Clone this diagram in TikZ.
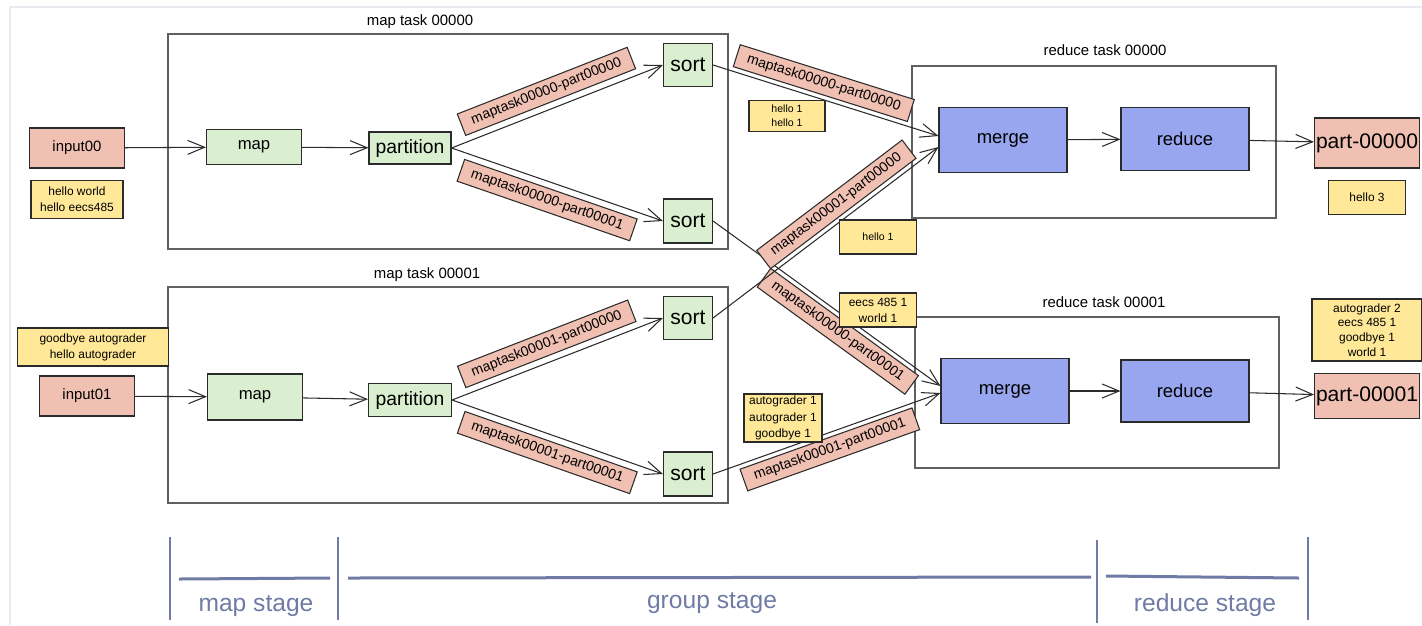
\documentclass[tikz,border=0pt]{standalone}
\usepackage{fontspec}
\setmainfont{Liberation Sans}
\usepackage{tikz}
\usetikzlibrary{arrows.meta,positioning}
\definecolor{pink}{HTML}{F0C1B3}
\definecolor{leaf}{HTML}{D9EFCF}
\definecolor{lav}{HTML}{97A6EE}
\definecolor{note}{HTML}{FFE998}
\definecolor{stage}{HTML}{6F7BA5}
\definecolor{frame}{HTML}{E9E9EF}
\definecolor{ink}{HTML}{2B2B2B}

\begin{document}
\begin{tikzpicture}[
  x=0.2mm,y=-0.2mm,
  b/.style={draw=ink,line width=.6pt,inner sep=0pt,align=center},
  pk/.style={b,fill=pink},
  gr/.style={b,fill=leaf},
  bl/.style={b,fill=lav,minimum width=25.6mm,minimum height=12.6mm,
    font=\fontsize{10.5}{12}\selectfont},
  nt/.style={b,fill=note,font=\fontsize{6.8}{9.2}\selectfont},
  sm/.style={font=\fontsize{6}{8.2}\selectfont},
  tag/.style={pk,sloped,minimum width=36.5mm,minimum height=4.6mm,
    font=\fontsize{8}{9}\selectfont},
  task/.style={draw=ink!75,line width=.6pt,inner sep=0pt},
  ttl/.style={font=\fontsize{8.5}{10}\selectfont},
  a/.style={-{Straight Barb[length=3.4mm,width=2.8mm]},draw=ink,line width=.6pt},
  stg/.style={draw=stage,line width=.45mm},
  stgl/.style={text=stage,font=\fontsize{14}{16}\selectfont}
]
\useasboundingbox (0,0) rectangle (1422,625);
\draw[frame,line width=.4mm] (10,625) |- (1422,7);

\node[task,minimum width=112mm,minimum height=43mm] (T0) at (448,141.5) {};
\node[ttl] (T0t) at (420,22) {map task 00000};
\node[task,minimum width=112mm,minimum height=43.2mm] (T1) at (448,395) {};
\node[ttl] (T1t) at (427,275) {map task 00001};
\node[task,minimum width=72.8mm,minimum height=30.4mm] (R0) at (1094,142) {};
\node[ttl] (R0t) at (1105,50) {reduce task 00000};
\node[task,minimum width=72.8mm,minimum height=30.2mm] (R1) at (1097,392.5) {};
\node[ttl] (R1t) at (1104,302) {reduce task 00001};

\node[pk,minimum width=19mm,minimum height=8mm,font=\fontsize{8.5}{10}\selectfont] (I0) at (77,148) {input00};
\node[nt,minimum width=18.4mm,minimum height=7.6mm,below=2.2mm of I0] (N0) {hello world\\hello eecs485};
\node[gr,minimum width=19mm,minimum height=7mm,font=\fontsize{9.5}{11}\selectfont] (MP0) at (254,147) {map};
\node[gr,minimum width=16.4mm,minimum height=6.4mm,font=\fontsize{11}{12}\selectfont] (PT0) at (410,148) {partition};
\node[gr,minimum width=9.8mm,minimum height=8.6mm,font=\fontsize{12}{13}\selectfont] (S00) at (688,65) {sort};
\node[gr,minimum width=9.8mm,minimum height=8.8mm,font=\fontsize{12}{13}\selectfont] (S01) at (688,221) {sort};

\node[pk,minimum width=19mm,minimum height=8mm,font=\fontsize{8.5}{10}\selectfont] (I1) at (87,396) {input01};
\node[nt,minimum width=30.2mm,minimum height=7.6mm] (N1) at (93,347) {goodbye autograder\\hello autograder};
\node[gr,minimum width=19mm,minimum height=9.2mm,font=\fontsize{9.5}{11}\selectfont] (MP1) at (255,397) {map};
\node[gr,minimum width=16.6mm,minimum height=6.6mm,font=\fontsize{11}{12}\selectfont] (PT1) at (410,400) {partition};
\node[gr,minimum width=9.8mm,minimum height=8.6mm,font=\fontsize{12}{13}\selectfont] (S10) at (688,318) {sort};
\node[gr,minimum width=9.8mm,minimum height=8.8mm,font=\fontsize{12}{13}\selectfont] (S11) at (688,474) {sort};

\node[bl,minimum height=13mm] (MG0) at (1003,140) {merge};
\node[bl] (RD0) at (1185,139) {reduce};
\node[pk,minimum width=21mm,minimum height=10mm,font=\fontsize{12}{13}\selectfont] (O0) at (1367,143) {part-00000};
\node[nt,minimum width=15.4mm,minimum height=6.8mm,below=2.2mm of O0] (H3) {hello 3};
\node[bl,minimum height=13mm] (MG1) at (1005,391) {merge};
\node[bl,minimum height=12.4mm] (RD1) at (1185,391) {reduce};
\node[pk,minimum width=21mm,minimum height=9mm,font=\fontsize{12}{13}\selectfont] (O1) at (1367,396) {part-00001};
\node[nt,minimum width=22mm,minimum height=12.4mm,font=\fontsize{6.8}{8.4}\selectfont] (H4) at (1367,330) {autograder 2\\eecs 485 1\\goodbye 1\\world 1};

\draw[a] (I0) -- (MP0);
\draw[a] (MP0) -- (PT0);
\draw[a] (PT0.east) -- node[tag,above=1.2mm,pos=.48]{maptask00000-part00000} (S00.west);
\draw[a] (PT0.east) -- node[tag,below=1.2mm,pos=.48]{maptask00000-part00001} (S01.west);
\draw[a] (I1) -- (MP1);
\draw[a] (MP1) -- (PT1);
\draw[a] (PT1.east) -- node[tag,above=1.2mm,pos=.48]{maptask00001-part00000} (S10.west);
\draw[a] (PT1.east) -- node[tag,below=1.2mm,pos=.48]{maptask00001-part00001} (S11.west);

\draw[a] (S00.east) -- node[tag,above=.8mm,pos=.47]{maptask00000-part00000} ([yshift=.8mm]MG0.west);
\draw[a] (S01.east) -- node[tag,below=.8mm,pos=.59]{maptask00000-part00001} ([yshift=1mm]MG1.west);
\draw[a] (S10.east) -- node[tag,above=.8mm,pos=.59]{maptask00001-part00000} ([yshift=-1.4mm]MG0.west);
\draw[a] (S11.east) -- node[tag,below=.8mm,pos=.49]{maptask00001-part00001} ([yshift=-.4mm]MG1.west);

\draw[a] (MG0) -- (RD0);
\draw[a] (RD0) -- (O0);
\draw[a] (MG1) -- (RD1);
\draw[a] (RD1) -- (O1);

\node[nt,sm,minimum width=15.2mm,minimum height=6.2mm] (H1) at (787,116) {hello 1\\hello 1};
\node[nt,sm,minimum width=15.4mm,minimum height=6.8mm] (H2) at (878,237) {hello 1};
\node[nt,minimum width=15.4mm,minimum height=6.8mm] (E1) at (878,310) {eecs 485 1\\world 1};
\node[nt,minimum width=15.6mm,minimum height=9.6mm] (A1) at (783,418) {autograder 1\\autograder 1\\goodbye 1};

\draw[stg] (170,537) -- (170,620);
\draw[stg] (338,537) -- (338,620);
\draw[stg] (1097,540) -- (1097,623);
\draw[stg] (1308,537) -- (1308,620);
\draw[stg,line width=.6mm] (179,579) -- (330,578);
\draw[stg,line width=.6mm] (348,578) -- (1091,577);
\draw[stg,line width=.6mm] (1106,576) -- (1299,578);
\node[stgl] (MS) at (256,606) {map stage};
\node[stgl] (GS) at (712,603) {group stage};
\node[stgl] (RS) at (1205,605) {reduce stage};
\end{tikzpicture}
\end{document}
